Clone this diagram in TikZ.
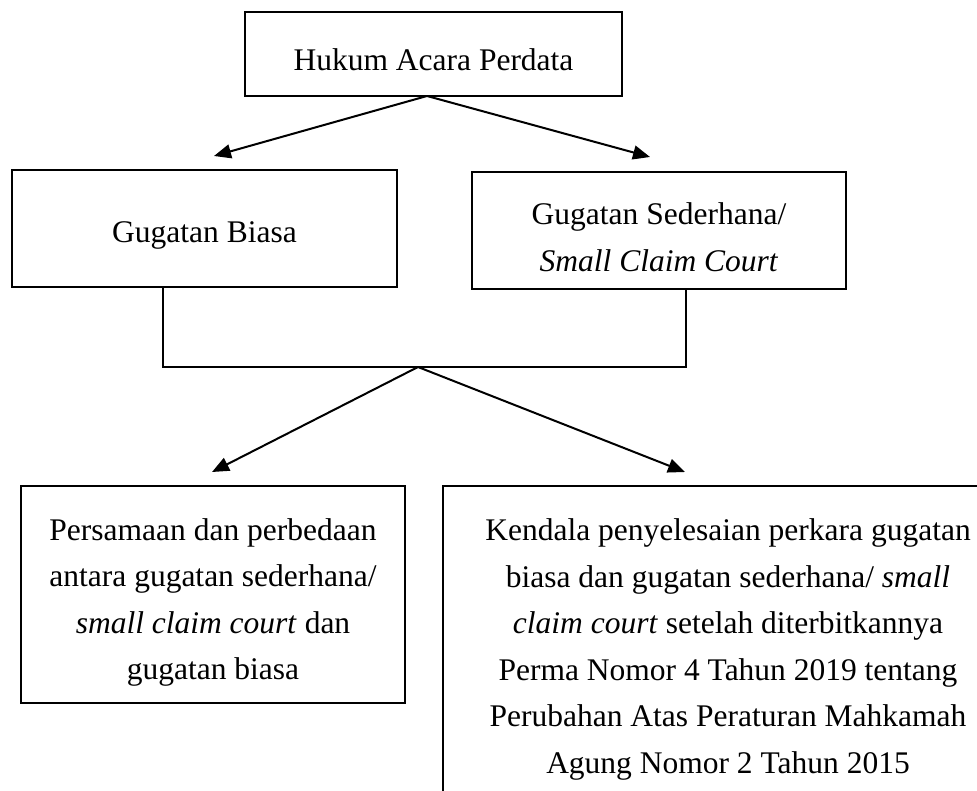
\documentclass[tikz,border=0pt]{standalone}
\usepackage{fontspec}
\setmainfont{Liberation Serif}
\usetikzlibrary{arrows.meta}
\begin{document}
\begin{tikzpicture}[x=1pt,y=-1pt,
  box/.style={draw=black,line width=1.5pt,rectangle,inner sep=0pt},
  txt/.style={inner sep=0pt,align=center,font=\fontsize{31.5}{46.5}\selectfont},
  conn/.style={draw=black,line width=2pt},
  arr/.style={conn,-{Triangle[length=17pt,width=14pt]}}]
\useasboundingbox (0,0) rectangle (977,791);
\clip (0,0) rectangle (977,791);
\fill[white] (0,0) rectangle (977,791);
\node[box,minimum width=377pt,minimum height=84pt] (top) at (433.5,54) {};
\node[txt] (topt) at ([yshift=-6pt]top.center) {Hukum Acara Perdata};
\node[box,minimum width=385pt,minimum height=117pt] (gb) at (204.5,228.5) {};
\node[txt] (gbt) at ([yshift=-7pt]gb.center) {Gugatan Biasa};
\node[box,minimum width=374pt,minimum height=117pt] (gs) at (659,230.5) {};
\node[txt] (gst) at ([yshift=-7pt]gs.center) {Gugatan Sederhana/\\\textit{Small Claim Court}};
\node[box,minimum width=384pt,minimum height=217pt] (ps) at (213,594.5) {};
\node[txt] (pst) at ([yshift=-8pt]ps.center) {Persamaan dan perbedaan\\antara gugatan sederhana/\\\textit{small claim court} dan\\gugatan biasa};
\node[box,minimum width=570pt,minimum height=321pt] (kd) at (728,646.5) {};
\node[txt] (kdt) at ([yshift=-3pt]kd.center) {Kendala penyelesaian perkara gugatan\\biasa dan gugatan sederhana/ \textit{small}\\\textit{claim court} setelah diterbitkannya\\Perma Nomor 4 Tahun 2019 tentang\\Perubahan Atas Peraturan Mahkamah\\Agung Nomor 2 Tahun 2015};
\coordinate (o1) at (427,96);
\coordinate (t1) at (214,156);
\coordinate (t2) at (650,157);
\coordinate (j1) at (163,287);
\coordinate (j2) at (686,289);
\coordinate (jl) at (163,367);
\coordinate (jr) at (686,367);
\coordinate (o2) at (418,367);
\coordinate (t3) at (212,472);
\coordinate (t4) at (685,472);
\draw[arr] (o1) -- (t1);
\draw[arr] (o1) -- (t2);
\draw[conn,line width=1.7pt,line join=miter] (j1) -- (jl) -- (jr) -- (j2);
\draw[arr] (o2) -- (t3);
\draw[arr] (o2) -- (t4);
\end{tikzpicture}
\end{document}
